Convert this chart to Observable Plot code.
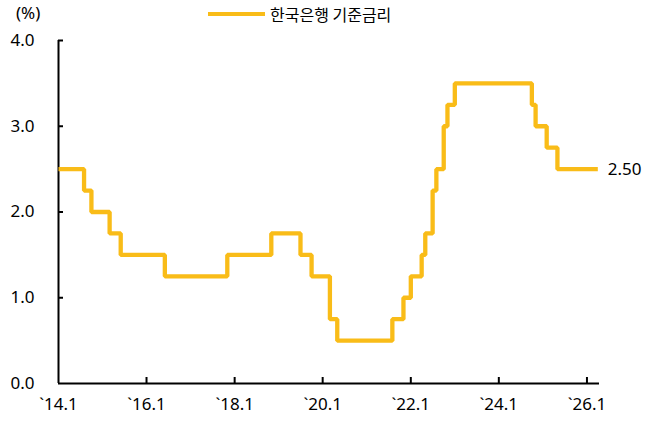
<!DOCTYPE html>
<html>
<head>
<meta charset="utf-8">
<script src="https://cdn.jsdelivr.net/npm/d3@7"></script>
<script src="https://cdn.jsdelivr.net/npm/@observablehq/plot@0.6"></script>
<style>
  html, body { margin: 0; padding: 0; background: #fff; }
  #wrap { position: relative; width: 650px; height: 429px; font-family: "Noto Sans", "Noto Sans CJK KR", sans-serif; }
  #unit { position: absolute; left: 16px; top: 2px; font-size: 17px; line-height: 22px; color: #000; }
  #legend { position: absolute; left: 208px; top: 3px; height: 22px; display: flex; align-items: center; }
  #legend .swatch { width: 57px; height: 4px; background: #F9BC18; margin-right: 5px; }
  #legend .lab { font-family: "Noto Sans CJK KR", sans-serif; font-size: 16px; color: #000; line-height: 22px; }
  #chart { position: absolute; left: 0; top: 0; }
</style>
</head>
<body>
<div id="wrap">
  <div id="chart"></div>
  <div id="unit">(%)</div>
  <div id="legend"><div class="swatch"></div><div class="lab">한국은행 기준금리</div></div>
</div>
<script>
// Bank of Korea base rate, monthly (end-of-month) steps
const seriesName = "한국은행 기준금리";
const months = ["2014-01","2014-08","2014-10","2015-03","2015-06","2016-06","2017-11","2018-11","2019-07","2019-10","2020-03","2020-05","2021-08","2021-11","2022-01","2022-04","2022-05","2022-07","2022-08","2022-10","2022-11","2023-01","2024-10","2024-11","2025-02","2025-05","2026-04"];
const rates = [2.50,2.25,2.00,1.75,1.50,1.25,1.50,1.75,1.50,1.25,0.75,0.50,0.75,1.00,1.25,1.50,1.75,2.25,2.50,3.00,3.25,3.50,3.25,3.00,2.75,2.50,2.50];
const xTickYears = [2014, 2016, 2018, 2020, 2022, 2024, 2026];
const yTicks = [0, 1, 2, 3, 4];
const xStart = "2014-01-01";
const xEnd = "2026-04-15";

const data = months.map((m, i) => ({date: new Date(m + "-01T00:00:00Z"), rate: rates[i]}));
const xTicks = xTickYears.map(y => new Date(Date.UTC(y, 0, 1)));
const last = data[data.length - 1];

const W = 650, H = 429, mT = 40, mB = 46, mL = 58, mR = 51;
const plotW = W - mL - mR, plotH = H - mT - mB;
const color = "#F9BC18";

const chart = Plot.plot({
  width: W,
  height: H,
  marginTop: mT,
  marginBottom: mB,
  marginLeft: mL,
  marginRight: mR,
  style: {fontFamily: "'Noto Sans', 'Noto Sans CJK KR', sans-serif", fontSize: "17px", color: "#000", background: "#fff", overflow: "visible"},
  x: {type: "utc", domain: [new Date(xStart + "T00:00:00Z"), new Date(xEnd + "T00:00:00Z")]},
  y: {domain: [0, 4]},
  marks: [
    Plot.axisX({ticks: xTicks, tickSize: 0, tickPadding: 14, tickFormat: d => "`" + String(d.getUTCFullYear()).slice(2) + ".1", fontSize: 17, label: null}),
    Plot.axisY({ticks: yTicks, tickSize: 0, tickPadding: 24, tickFormat: d3.format(".1f"), fontSize: 17, label: null}),
    Plot.ruleX(xTicks.slice(1), {stroke: "#000", strokeWidth: 2, insetTop: plotH - 6}),
    Plot.ruleY(yTicks.slice(1), {stroke: "#000", strokeWidth: 2, insetRight: plotW - 5}),
    Plot.ruleY([0], {stroke: "#000", strokeWidth: 2}),
    Plot.ruleX([new Date(xStart + "T00:00:00Z")], {stroke: "#000", strokeWidth: 2}),
    Plot.line(data, {x: "date", y: "rate", curve: "step-after", stroke: color, strokeWidth: 4.3, strokeLinejoin: "miter", strokeLinecap: "butt"}),
    Plot.text([last], {x: "date", y: "rate", text: d => d.rate.toFixed(2), textAnchor: "start", dx: 10, fontSize: 17, fill: "#000"})
  ]
});
document.getElementById("chart").appendChild(chart);
</script>
</body>
</html>
